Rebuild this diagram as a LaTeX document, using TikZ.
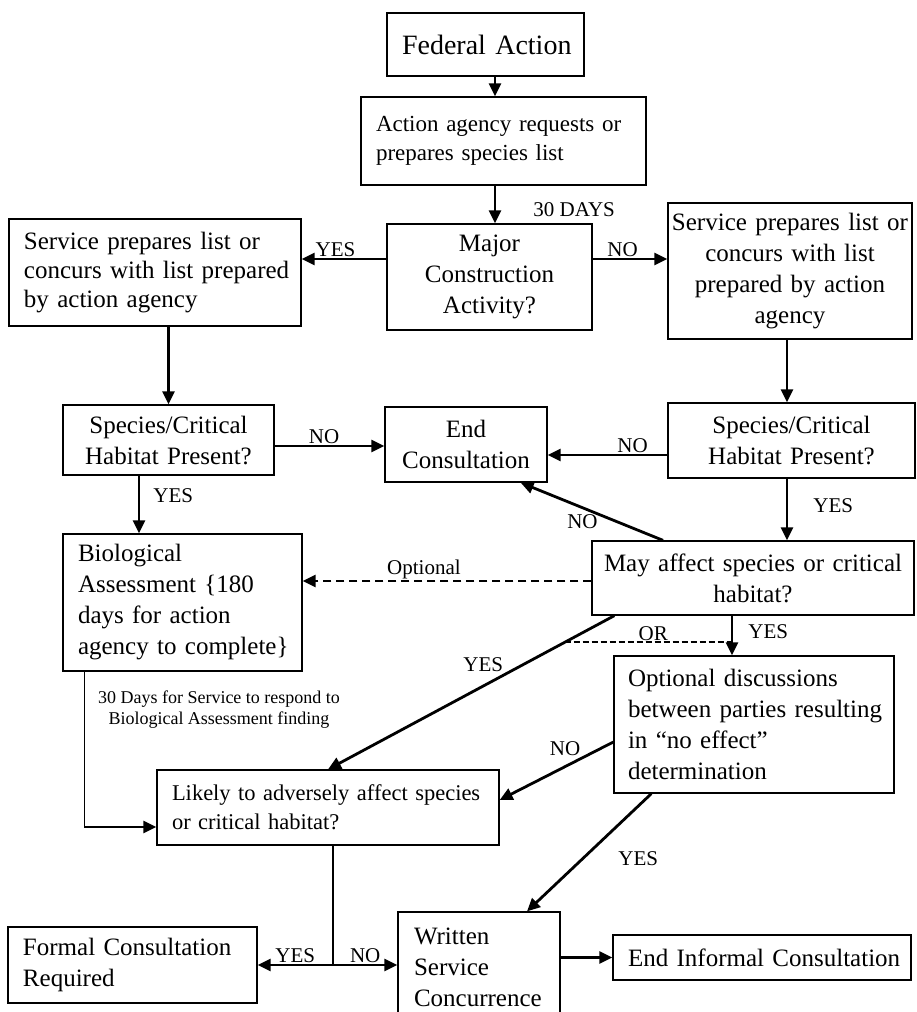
\documentclass[tikz,border=0pt]{standalone}
\usepackage{fontspec}
\setmainfont{Liberation Serif}
\usetikzlibrary{arrows.meta}

\newcommand\boxfont{\fontsize{25}{31}\selectfont}
\newcommand\lblfont{\fontsize{21}{24}\selectfont}
\newcommand\notefont{\fontsize{18}{21}\selectfont}

\begin{document}
\begin{tikzpicture}[x=1pt, y=-1pt,
  box/.style={draw, line width=1.3pt, inner xsep=15pt, inner ysep=0pt, font=\boxfont},
  lbox/.style={box, align=left},
  cbox/.style={box, align=center, inner xsep=2pt},
  arr/.style={line width=2.8pt, -{Triangle[length=13pt,width=12pt]}},
  dasharr/.style={arr, dash pattern=on 8pt off 5pt},
  dashline/.style={line width=2pt, dash pattern=on 6pt off 3pt},
  thinline/.style={line width=1.3pt},
  lbl/.style={font=\lblfont, inner sep=1pt}]

\useasboundingbox (0,0) rectangle (916,1012);
\clip (0,0) rectangle (916,1012);

% Boxes
\node[lbox, text width=182pt, inner xsep=7.5pt, minimum height=63pt, font=\fontsize{28}{33}\selectfont] (fed) at (485.5,44.5) {\hspace*{7.5pt}Federal Action};
\node[lbox, text width=265pt, inner xsep=10pt, minimum height=88pt, font=\fontsize{23}{29}\selectfont] (req) at (503.5,141) {\hspace*{5pt}Action agency requests or\\\hspace*{5pt}prepares species list};
\node[cbox, text width=201pt, minimum height=106pt] (major) at (489.5,277) {Major\\Construction\\Activity?};
\node[lbox, text width=272pt, inner xsep=10pt, minimum height=107pt, font=\fontsize{25}{29}\selectfont] (lsvc) at (155,272.5) {\hspace*{5pt}Service prepares list or\\\hspace*{5pt}concurs with list prepared\\\hspace*{5pt}by action agency};
\node[cbox, text width=240pt, minimum height=136pt] (rsvc) at (790,271) {Service prepares list or\\concurs with list\\prepared by action\\agency};
\node[cbox, text width=207pt, minimum height=70pt] (lspc) at (168.5,440) {Species/Critical\\Habitat Present?};
\node[cbox, text width=158pt, minimum height=75pt] (endc) at (466,444.5) {End\\Consultation};
\node[cbox, text width=243pt, minimum height=75pt] (rspc) at (791.5,440.5) {Species/Critical\\Habitat Present?};
\node[cbox, text width=318pt, minimum height=74pt] (may) at (753,578) {May affect species or critical\\habitat?};
\node[lbox, text width=219pt, inner xsep=10pt, minimum height=137pt] (bio) at (182.5,602.5) {\hspace*{5pt}Biological\\\hspace*{5pt}Assessment \{180\\\hspace*{5pt}days for action\\\hspace*{5pt}agency to complete\}};
\node[lbox, text width=260pt, inner xsep=10pt, minimum height=137pt] (opt) at (754,724.5) {\hspace*{4pt}Optional discussions\\\hspace*{4pt}between parties resulting\\\hspace*{4pt}in “no effect”\\\hspace*{4pt}determination};
\node[lbox, text width=322pt, inner xsep=10pt, minimum height=75pt, font=\fontsize{22.5}{29}\selectfont] (likely) at (328,807.5) {\hspace*{5pt}Likely to adversely affect species\\\hspace*{5pt}or critical habitat?};
\node[lbox, text width=229pt, inner xsep=10pt, minimum height=76pt] (formal) at (132.5,965) {\hspace*{5pt}Formal Consultation\\\hspace*{5pt}Required};
\node[lbox, text width=142pt, inner xsep=10pt, minimum height=110pt] (written) at (479,967) {\hspace*{6pt}Written\\\hspace*{6pt}Service\\\hspace*{6pt}Concurrence};
\node[lbox, text width=278pt, inner xsep=10pt, minimum height=45pt] (endi) at (762,957.5) {\hspace*{5pt}End Informal Consultation};

% Note
\node[font=\notefont, align=center] (note) at (219,710) {30 Days for Service to respond to\\Biological Assessment finding};

% Top part
\draw[arr] ([xshift=9.5pt]fed.south) -- ([xshift=9.5pt]fed.south |- req.north);
\draw[arr] ([xshift=-8.5pt]req.south) -- ([xshift=-8.5pt]req.south |- major.north)
  node[lbl, pos=0.64, anchor=west, xshift=36pt] (days) {30 DAYS};
\draw[arr] ([yshift=18pt]major.west) -- ([yshift=18pt]major.west -| lsvc.east) node[lbl, pos=0.6, above] {YES};
\draw[arr] ([yshift=18pt]major.east) -- ([yshift=18pt]major.east -| rsvc.west) node[lbl, pos=0.4, above] {NO};

% Species present?
\draw[arr] (lspc.north |- lsvc.south) -- (lspc.north);
\draw[arr] ([xshift=-4.5pt]rspc.north |- rsvc.south) -- ([xshift=-4.5pt]rspc.north);
\draw[arr] ([yshift=-6pt]lspc.east) -- ([yshift=-6pt]lspc.east -| endc.west) node[lbl, pos=0.45, above] {NO};
\draw[arr] ([yshift=-14.5pt]rspc.west) -- ([yshift=-14.5pt]rspc.west -| endc.east) node[lbl, pos=0.29, above] {NO};
\draw[arr] ([xshift=-29.5pt]lspc.south) -- ([xshift=-29.5pt]lspc.south |- bio.north) node[lbl, pos=0.34, anchor=west, xshift=12pt] {YES};
\draw[arr] ([xshift=-4.5pt]rspc.south) -- ([xshift=-4.5pt]rspc.south |- may.north) node[lbl, pos=0.44, anchor=west, xshift=24pt] {YES};

% May affect
\draw[arr] ([xshift=-90pt]may.north) -- ([xshift=-27pt]endc.south east) node[lbl, pos=0.33, anchor=east, xshift=-16pt] {NO};
\draw[dasharr] ([yshift=-3pt]may.west) -- ([yshift=-3pt]may.west -| bio.east) node[lbl, pos=0.58, above] {Optional};
\draw[arr] ([xshift=23pt]may.south west) -- (likely.north) coordinate[pos=0.174] (orleft)
  node[lbl, pos=0.38, anchor=south east] {YES};
\coordinate (yesout) at ([xshift=-21pt]may.south);
\draw[arr] (yesout) -- (yesout |- opt.north) node[lbl, pos=0.41, anchor=west, xshift=14pt] {YES};
\draw[dashline] (orleft) -- (orleft -| yesout) node[lbl, pos=0.53, above] {OR};

% Biological Assessment to Likely
\coordinate (bioout) at ([xshift=22pt]bio.south west);
\coordinate (likin) at ([yshift=-19.5pt]likely.west);
\draw[thinline] (bioout) -- (bioout |- likin) coordinate (bend);
\draw[arr] (bend) -- (likin);

% Optional discussions
\draw[arr] ([yshift=-17.5pt]opt.west) -- ([yshift=7.5pt]likely.east) node[lbl, pos=0.27, anchor=south east] {NO};
\draw[arr] ([xshift=38pt]opt.south west) -- ([xshift=48pt]written.north) node[lbl, pos=0.55, anchor=west, xshift=33pt] {YES};

% Bottom part
\draw[thinline] ([xshift=5pt]likely.south) -- ([xshift=5pt]likely.south |- formal.east) coordinate (split);
\draw[arr] (split) -- (formal.east) node[lbl, midway, above] {YES};
\draw[arr] (split) -- (split -| written.west) node[lbl, midway, above] {NO};
\draw[arr] (written.east |- endi.west) -- (endi.west);
\end{tikzpicture}
\end{document}
